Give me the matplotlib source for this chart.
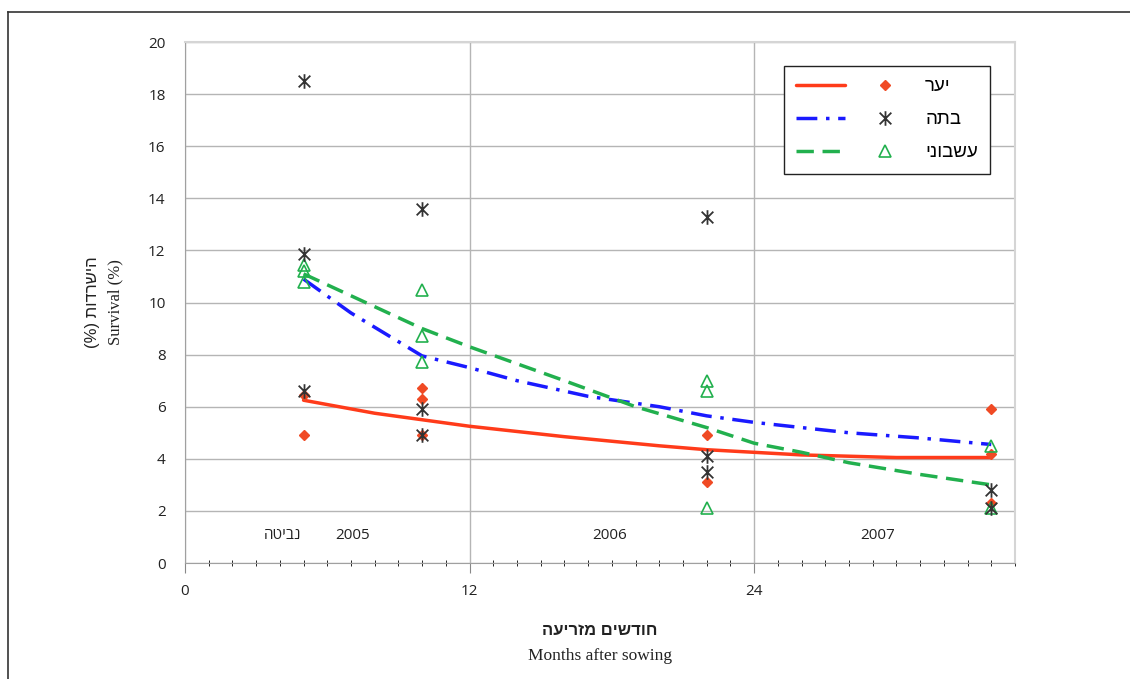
import matplotlib.pyplot as plt
from matplotlib.lines import Line2D
from matplotlib.path import Path
from matplotlib.legend_handler import HandlerTuple
from matplotlib.ticker import MultipleLocator

plt.rcParams['font.family'] = ['Open Sans', 'DejaVu Sans']


def heb(s):
    # matplotlib has no bidi support, so flip Hebrew words for display
    return s[::-1]


# measured survival (%) by months after sowing
forest_x = [5, 5, 10, 10, 10, 22, 22, 34, 34, 34]
forest_y = [6.45, 4.9, 6.7, 6.3, 4.9, 4.9, 3.1, 5.9, 4.2, 2.3]
shrub_x = [5, 5, 5, 10, 10, 10, 22, 22, 22, 34, 34]
shrub_y = [18.5, 11.85, 6.6, 13.6, 5.9, 4.9, 13.3, 4.1, 3.5, 2.8, 2.1]
herb_x = [5, 5, 5, 10, 10, 10, 22, 22, 22, 34, 34]
herb_y = [11.45, 11.2, 10.8, 10.5, 8.7, 7.7, 7.0, 6.6, 2.1, 4.5, 2.1]

# trend lines
forest_trend_x = [5, 8, 10, 12, 16, 20, 22, 26, 30, 34]
forest_trend_y = [6.25, 5.75, 5.5, 5.25, 4.85, 4.5, 4.35, 4.15, 4.05, 4.05]
shrub_trend_x = [5, 7, 10, 12, 14, 17, 20, 22, 24, 28, 31, 34]
shrub_trend_y = [10.9, 9.6, 7.95, 7.5, 7.0, 6.4, 6.0, 5.65, 5.4, 5.0, 4.8, 4.55]
herb_trend_x = [5, 10, 12, 16, 19, 22, 24, 26, 28, 31, 34]
herb_trend_y = [11.1, 9.0, 8.3, 7.0, 6.0, 5.2, 4.6, 4.25, 3.85, 3.4, 3.0]

names = ['יער', 'בתה', 'עשבוני']
season_labels = ['נביטה', '2005', '2006', '2007']
season_x = [4.1, 7.05, 17.9, 29.2]

red = '#ff3b1a'
blue = '#1a1aff'
green = '#22b04e'
grey = '#333333'

asterisk = Path([(-0.8, -0.8), (0.8, 0.8), (-0.8, 0.8), (0.8, -0.8), (0, -1), (0, 1)],
                [Path.MOVETO, Path.LINETO, Path.MOVETO, Path.LINETO, Path.MOVETO, Path.LINETO])

fig = plt.figure(figsize=(11.3, 6.79), dpi=100)
ax = fig.add_axes([0.1637, 0.1708, 0.7345, 0.7673])

l1, = ax.plot(forest_trend_x, forest_trend_y, color=red, lw=2.5, solid_capstyle='round')
l2, = ax.plot(shrub_trend_x, shrub_trend_y, color=blue, lw=2.5, dashes=(6, 2.5, 1, 2.5))
l3, = ax.plot(herb_trend_x, herb_trend_y, color=green, lw=2.5, dashes=(5, 2.5))

m1, = ax.plot(forest_x, forest_y, 'D', color='#f04a24', ms=5, ls='none', zorder=3)
m2, = ax.plot(shrub_x, shrub_y, marker=asterisk, color=grey, mew=1.3, ms=10.5,
              ls='none', zorder=4)
m3, = ax.plot(herb_x, herb_y, '^', mfc='none', mec=green, mew=1.2, ms=9, ls='none', zorder=3)

ax.set_xlim(0, 35)
ax.set_ylim(0, 20)
ax.set_xticks([0, 12, 24])
ax.xaxis.set_minor_locator(MultipleLocator(1))
ax.set_yticks(range(0, 21, 2))
ax.tick_params(axis='both', labelsize=11, colors='#888888', labelcolor='#222222')
ax.tick_params(axis='x', which='major', length=7, direction='out', pad=8)
ax.tick_params(axis='x', which='minor', length=5, direction='inout')
ax.tick_params(axis='y', length=0, pad=14)

ax.grid(axis='y', color='#b5b5b5', lw=1)
ax.grid(axis='x', which='major', color='#b5b5b5', lw=1)
ax.set_axisbelow(True)
for side in ['left', 'bottom']:
    ax.spines[side].set_color('#a0a0a0')
for side in ['top', 'right']:
    ax.spines[side].set_color('#d5d5d5')
    ax.spines[side].set_linewidth(1.5)

for x, lab in zip(season_x, season_labels):
    txt = heb(lab) if not lab.isdigit() else lab
    ax.text(x, 1.07, txt, ha='center', va='center', fontsize=11, color='#222222',
            family=['Open Sans', 'Liberation Sans', 'DejaVu Sans'])

leg = ax.legend([(l1, m1), (l2, m2), (l3, m3)], [heb(n) for n in names],
                handler_map={tuple: HandlerTuple(ndivide=None, pad=0.8)},
                loc='upper right', bbox_to_anchor=(0.970, 0.954), borderaxespad=0,
                handlelength=6.1, handletextpad=0.8, labelspacing=0.85,
                borderpad=0.65, fancybox=False, framealpha=1,
                prop={'family': ['Liberation Sans', 'DejaVu Sans'], 'size': 13.5})
leg.get_frame().set_edgecolor('#222222')
leg.get_frame().set_linewidth(1.0)

fig.text(0.082, 0.555, '(%) ' + heb('הישרדות'), rotation=90, ha='center', va='center',
         fontsize=12, family=['Liberation Sans', 'DejaVu Sans'], color='#222222')
fig.text(0.102, 0.555, 'Survival (%)', rotation=90, ha='center', va='center',
         fontsize=12, family='Liberation Serif', color='#222222')
fig.text(0.531, 0.072, heb('חודשים מזריעה'), ha='center', va='center',
         fontsize=12, fontweight='bold', family=['Liberation Sans', 'DejaVu Sans'],
         color='#222222')
fig.text(0.531, 0.034, 'Months after sowing', ha='center', va='center',
         fontsize=12.5, family='Liberation Serif', color='#222222')

# thin frame around the figure, top and left only
fig.add_artist(Line2D([0.007, 1.0], [0.982, 0.982], color=grey, lw=1.2))
fig.add_artist(Line2D([0.007, 0.007], [0.0, 0.982], color=grey, lw=1.2))

fig.savefig('out.png', dpi=100)
